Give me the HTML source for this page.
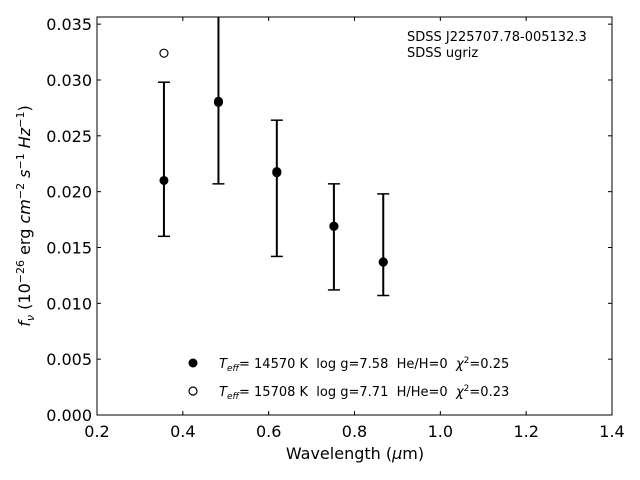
<!DOCTYPE html>
<html><head><meta charset="utf-8"><style>
body{margin:0;background:#fff;}
svg{display:block;font-family:"DejaVu Sans","Liberation Sans",sans-serif;}
text{white-space:pre;}
</style></head><body>
<svg id="chart" width="640" height="480" viewBox="0 0 640 480" xmlns="http://www.w3.org/2000/svg" xml:space="preserve">
<rect width="640" height="480" fill="#fff"/>
<g id="marks"></g>
<g id="axes"></g>
<rect x="97" y="17" width="515" height="398" fill="none" stroke="#000" stroke-width="1"/>
<text x="407" y="41" font-size="13">SDSS J225707.78-005132.3</text>
<text x="407" y="57" font-size="13">SDSS ugriz</text>
<text x="355" y="459" font-size="16" text-anchor="middle">Wavelength (<tspan font-style="italic">μ</tspan>m)</text>
<text transform="translate(30,216) rotate(-90)" font-size="16" text-anchor="middle"><tspan font-style="italic">f<tspan font-size="11" dy="4">ν</tspan></tspan><tspan dy="-4"> (10</tspan><tspan font-size="11" dy="-6">−26</tspan><tspan dy="6"> erg </tspan><tspan font-style="italic">cm</tspan><tspan font-size="11" dy="-6">−2</tspan><tspan dy="6" font-style="italic"> s</tspan><tspan font-size="11" dy="-6">−1</tspan><tspan dy="6" font-style="italic"> Hz</tspan><tspan font-size="11" dy="-6">−1</tspan><tspan dy="6">)</tspan></text>
<g>
<circle cx="193" cy="363" r="4.5" fill="#000"/>
<text x="219" y="368" font-size="13"><tspan font-style="italic">T<tspan font-size="9" dy="3">eff</tspan></tspan><tspan dy="-3">= 14570 K  log g=7.58  He/H=0  </tspan><tspan font-style="italic">χ</tspan><tspan font-size="9" dy="-5">2</tspan><tspan dy="5">=0.25</tspan></text>
<circle cx="193" cy="391" r="4" fill="#fff" stroke="#000" stroke-width="1.2"/>
<text x="219" y="396" font-size="13"><tspan font-style="italic">T<tspan font-size="9" dy="3">eff</tspan></tspan><tspan dy="-3">= 15708 K  log g=7.71  H/He=0  </tspan><tspan font-style="italic">χ</tspan><tspan font-size="9" dy="-5">2</tspan><tspan dy="5">=0.23</tspan></text>
</g>
</svg>
<script>
const wavelengths=[0.356,0.483,0.619,0.752,0.867];
const fluxObs=[0.0210,0.0281,0.0218,0.0169,0.0137];
const errLow=[0.0160,0.0207,0.0142,0.0112,0.0107];
const errHigh=[0.0298,0.0380,0.0264,0.0207,0.0198];
const fluxModel2=[0.0324,0.0280,0.0217,0.0169,0.0137];
const xTicks=[0.2,0.4,0.6,0.8,1.0,1.2,1.4];
const xTickLabels=["0.2","0.4","0.6","0.8","1.0","1.2","1.4"];
const yTicks=[0,0.005,0.010,0.015,0.020,0.025,0.030,0.035];
const yTickLabels=["0.000","0.005","0.010","0.015","0.020","0.025","0.030","0.035"];
const X0=97,X1=612,Y0=415,Y1=17,xmin=0.2,xmax=1.4,ymin=0,ymax=0.03564;
const sx=v=>X0+(v-xmin)/(xmax-xmin)*(X1-X0);
const sy=v=>Y0-(v-ymin)/(ymax-ymin)*(Y0-Y1);
const NS="http://www.w3.org/2000/svg";
function mk(t,a,p){const e=document.createElementNS(NS,t);for(const k in a)e.setAttribute(k,a[k]);p.appendChild(e);return e;}
const axes=document.getElementById('axes'),marks=document.getElementById('marks');
xTicks.forEach((v,i)=>{const x=sx(v);
 const t=mk('line',{x1:x,x2:x,y1:Y0,y2:Y0-4,stroke:'#000'},axes);
 
 
 const t2=mk('line',{x1:x,x2:x,y1:Y1,y2:Y1+4,stroke:'#000'},axes);
 
 
 const l=mk('text',{x:x,y:Y0+22,'font-size':16,'text-anchor':'middle'},axes);l.textContent=xTickLabels[i];
 
 
});
yTicks.forEach((v,i)=>{const y=sy(v);
 const t=mk('line',{x1:X0,x2:X0+4,y1:y,y2:y,stroke:'#000'},axes);
 
 
 const t2=mk('line',{x1:X1,x2:X1-4,y1:y,y2:y,stroke:'#000'},axes);
 
 
 const l=mk('text',{x:X0-5,y:y+6,'font-size':16,'text-anchor':'end'},axes);l.textContent=yTickLabels[i];
 
 
});
wavelengths.forEach((w,i)=>{const x=sx(w);
 const top=Math.max(sy(errHigh[i]),Y1),bot=sy(errLow[i]);
 const e=mk('line',{x1:x,x2:x,y1:top,y2:bot,stroke:'#000','stroke-width':2},marks);
 
 
 if(sy(errHigh[i])>=Y1){const c=mk('line',{x1:x-6,x2:x+6,y1:top,y2:top,stroke:'#000','stroke-width':1.5},marks);
  
  }
 const c2=mk('line',{x1:x-6,x2:x+6,y1:bot,y2:bot,stroke:'#000','stroke-width':1.5},marks);
 
 
 const o=mk('circle',{cx:x,cy:sy(fluxModel2[i]),r:4,fill:'#fff',stroke:'#000','stroke-width':1.2},marks);
 
 
 const p=mk('circle',{cx:x,cy:sy(fluxObs[i]),r:4.5,fill:'#000'},marks);
 
 
});
</script>
</body></html>
